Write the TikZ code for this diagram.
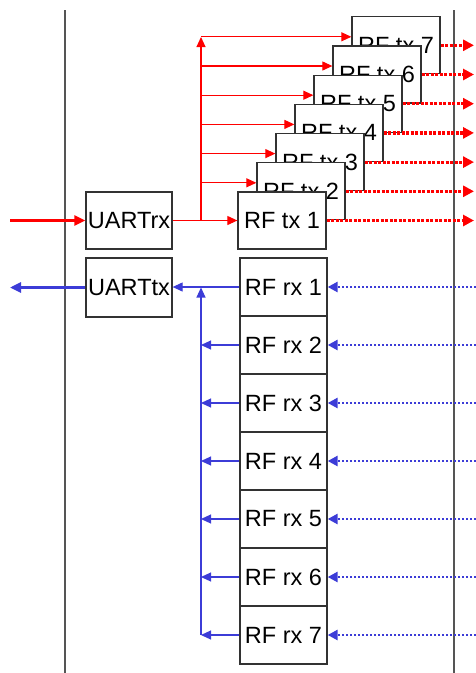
\documentclass[tikz,border=0pt]{standalone}
\usepackage{fontspec}
\setmainfont{Liberation Sans}
\usetikzlibrary{arrows.meta,calc}
\definecolor{myred}{RGB}{255,0,0}
\definecolor{myblue}{RGB}{60,60,215}
\definecolor{boxgray}{RGB}{50,50,50}
\definecolor{linegray}{RGB}{85,85,85}
\tikzset{
  blk/.style={draw=boxgray, line width=1.3pt, fill=white, minimum width=87pt, minimum height=57pt, inner sep=0pt, font=\fontsize{23.5}{23.5}\selectfont},
  sep/.style={draw=linegray, line width=1.6pt},
  redthin/.style={draw=myred, line width=1.1pt, -{Triangle[length=10pt,width=9pt]}},
  redthick/.style={draw=myred, line width=2.6pt, -{Triangle[length=11pt,width=10pt]}},
  reddot/.style={draw=myred, line width=3.2pt, dash pattern=on 3pt off 1.5pt, -{Triangle[length=11pt,width=11pt]}},
  bluethin/.style={draw=myblue, line width=1.1pt, -{Triangle[length=10pt,width=9pt]}},
  bluethick/.style={draw=myblue, line width=2.6pt, -{Triangle[length=11pt,width=10pt]}},
  bluedot/.style={draw=myblue, line width=2.6pt, dash pattern=on 2.5pt off 1.5pt, -{Triangle[length=10pt,width=10pt]}},
}
\begin{document}
\begin{tikzpicture}[x=1pt,y=-1pt]
\useasboundingbox (0,0) rectangle (476,673);
% separators
\draw[sep] (65,10) -- (65,673);
\draw[sep] (454,10) -- (454,673);
% UART boxes
\node[blk, minimum width=86pt] (urx) at (129,220.5) {UARTrx};
\node[blk, minimum width=86pt, minimum height=59pt] (utx) at (129,287.5) {UARTtx};
% tx boxes, back to front
\foreach \k in {7,6,5,4,3,2,1}{
  \node[blk, minimum width=88pt] (tx\k) at ({282+(\k-1)*19},{220.5-(\k-1)*29.2}) {RF tx \k};
}
% rx boxes
\foreach \k in {1,...,7}{
  \node[blk, minimum height=58pt] (rx\k) at (283.5,{287+(\k-1)*58}) {RF rx \k};
}
\coordinate (rin) at (10,220.5);
\coordinate (bout) at (10,287.5);
\coordinate (redge) at (474,0);
\coordinate (bedge) at (476,0);
\coordinate (bx) at (201,0);
\coordinate (rtop) at (201,37);
\coordinate (rbase) at (201,220.5);
\coordinate (bbot) at (201,635);
\coordinate (btop) at (201,287.5);
% red input
\draw[redthick] (rin) -- (urx.west);
\draw[redthin] (urx.east) -- (tx1.west);
\draw[redthin] (rbase) -- (rtop);
\foreach \k in {2,...,7}{
  \coordinate (tap\k) at (201,{220.5-(\k-1)*29.2-8.5});
  \draw[redthin] (tap\k) -- (tap\k -| tx\k.west);
}
\foreach \k in {1,...,7}{
  \draw[reddot] (tx\k.east) -- (tx\k.east -| redge);
}
% blue
\draw[bluethick] (utx.west) -- (bout);
\draw[bluethin] (rx1.west) -- (rx1.west -| utx.east);
\draw[bluethin] (bbot) -- (btop);
\foreach \k in {2,...,7}{
  \draw[bluethin] (rx\k.west) -- (rx\k.west -| bx);
}
\foreach \k in {1,...,7}{
  \draw[bluedot] (rx\k.east -| bedge) -- (rx\k.east);
}
\end{tikzpicture}
\end{document}
